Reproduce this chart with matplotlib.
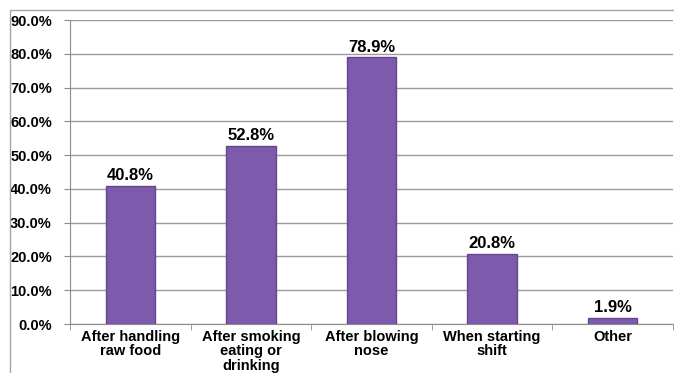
import matplotlib
matplotlib.use("Agg")
import matplotlib.pyplot as plt
from matplotlib.patches import Rectangle
from matplotlib.ticker import FuncFormatter, MultipleLocator

categories = ["After handling\nraw food", "After smoking\neating or\ndrinking",
              "After blowing\nnose", "When starting\nshift", "Other"]
values = [40.8, 52.8, 78.9, 20.8, 1.9]
value_labels = ["40.8%", "52.8%", "78.9%", "20.8%", "1.9%"]

plt.rcParams['font.family'] = ['Liberation Sans', 'DejaVu Sans']

fig = plt.figure(figsize=(6.74, 3.73), dpi=100)
ax = fig.add_axes([70/674, 1-324/373, 603/674, (324-20)/373])

# outer frame
fig.patches.append(Rectangle((10/674, -0.1), 1.2, 1 - 10/373 + 0.1, transform=fig.transFigure,
                             fill=False, edgecolor="#A6A6A6", linewidth=1.0))

x = list(range(len(categories)))
bars = ax.bar(x, values, width=0.41, color="#7E5AAD", edgecolor="#64478F", linewidth=1.0, zorder=3)
for xi, v, lab in zip(x, values, value_labels):
    ax.text(xi, v + 0.8, lab, ha="center", va="bottom", fontsize=12, fontweight="bold", color="black")

ax.set_xlim(-0.5, len(categories) - 0.5)
ax.set_ylim(0, 90)
ax.yaxis.set_major_locator(MultipleLocator(10))
ax.yaxis.set_major_formatter(FuncFormatter(lambda v, p: f"{v:.1f}%"))
ax.grid(axis="y", color="#9A9A9A", linewidth=1.0, zorder=0)
ax.set_axisbelow(True)

ax.set_xticks(x)
ax.set_xticklabels(categories, fontsize=10.5, fontweight="bold", linespacing=1.05)
ax.set_xticks([i - 0.5 for i in range(len(categories) + 1)], minor=True)
ax.tick_params(axis="x", which="major", length=0, pad=4)
ax.tick_params(axis="x", which="minor", length=4, color="#8C8C8C")
ax.tick_params(axis="y", length=4, color="#8C8C8C", labelsize=10.5, pad=9)
for lab in ax.get_yticklabels():
    lab.set_fontweight("bold")

for s in ["top", "right"]:
    ax.spines[s].set_visible(False)
for s in ["left", "bottom"]:
    ax.spines[s].set_color("#8C8C8C")

fig.savefig("out.png", dpi=100)
